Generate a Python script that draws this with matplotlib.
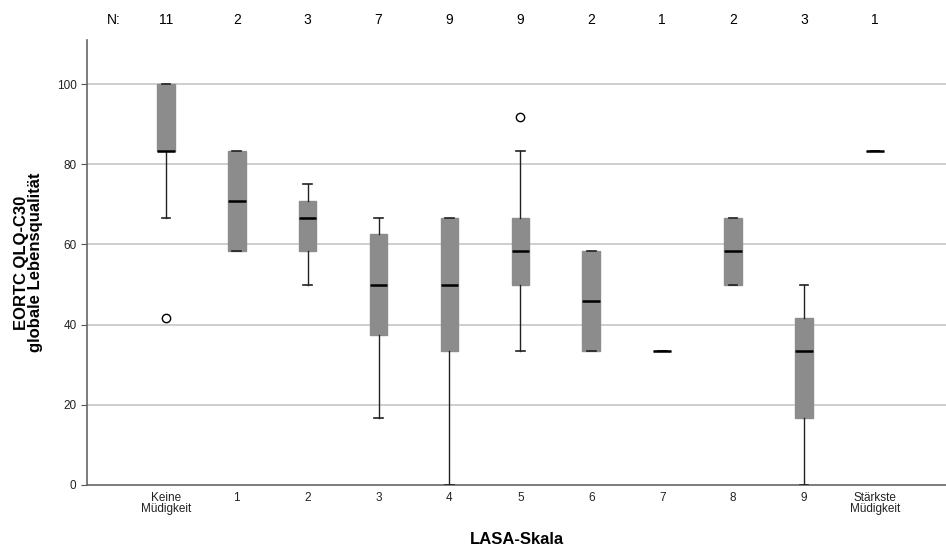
import matplotlib.pyplot as plt

plt.rcParams['font.family'] = ['Liberation Sans', 'DejaVu Sans']

# LASA-Skala Gruppen
gruppen = ['Keine\nMüdigkeit', '1', '2', '3', '4', '5', '6', '7', '8', '9', 'Stärkste\nMüdigkeit']
n_werte = [11, 2, 3, 7, 9, 9, 2, 1, 2, 3, 1]

# Boxplot-Kennwerte
median = [83.3, 70.8, 66.7, 50.0, 50.0, 58.3, 45.8, 33.3, 58.3, 33.3, 83.3]
q1 = [83.3, 58.3, 58.3, 37.5, 33.3, 50.0, 33.3, 33.3, 50.0, 16.7, 83.3]
q3 = [100.0, 83.3, 70.8, 62.5, 66.7, 66.7, 58.3, 33.3, 66.7, 41.7, 83.3]
whis_lo = [66.7, 58.3, 50.0, 16.7, 0.0, 33.3, 33.3, 33.3, 50.0, 0.0, 83.3]
whis_hi = [100.0, 83.3, 75.0, 66.7, 66.7, 83.3, 58.3, 33.3, 66.7, 50.0, 83.3]
ausreisser = [[41.7], [], [], [], [], [91.7], [], [], [], [], []]

stats = []
for i in range(len(gruppen)):
    stats.append({'med': median[i], 'q1': q1[i], 'q3': q3[i],
                  'whislo': whis_lo[i], 'whishi': whis_hi[i],
                  'fliers': ausreisser[i], 'label': gruppen[i]})

fig = plt.figure(figsize=(9.46, 5.48), dpi=100)
ax = fig.add_axes([0.092, 0.115, 0.908, 0.812])

box_col = '#8c8c8c'
pos = list(range(len(gruppen)))
ax.bxp(stats, positions=pos, widths=0.25, patch_artist=True, capwidths=0.12,
       boxprops=dict(facecolor=box_col, edgecolor=box_col, linewidth=1),
       medianprops=dict(color='black', linewidth=1.8),
       whiskerprops=dict(color='#222222', linewidth=1),
       capprops=dict(color='#222222', linewidth=1.2),
       flierprops=dict(marker='o', markerfacecolor='white', markeredgecolor='black',
                       markersize=6, markeredgewidth=1),
       zorder=3)

# horizontale Gitterlinien
for y in [20, 40, 60, 80, 100]:
    ax.axhline(y, color='#c6c6c6', linewidth=1.2, zorder=1)

ax.set_xlim(-1.11, 11)
ax.set_ylim(0, 111)
ax.set_yticks([0, 20, 40, 60, 80, 100])
ax.tick_params(axis='y', labelsize=8.5, length=4, color='#555555', labelcolor='#222222')
ax.set_xticks(pos)
ax.set_xticklabels(gruppen, fontsize=8.5, linespacing=0.9, color='#222222')
ax.tick_params(axis='x', length=0, pad=5)

for s in ['top', 'right']:
    ax.spines[s].set_visible(False)
for s in ['left', 'bottom']:
    ax.spines[s].set_color('#666666')
    ax.spines[s].set_linewidth(1.2)

ax.set_ylabel('EORTC QLQ-C30\nglobale Lebensqualität', fontsize=12,
              fontweight='bold', linespacing=0.9, labelpad=10)
ax.set_xlabel('LASA-Skala', fontsize=12, fontweight='bold', labelpad=12)

# N-Werte oben
ax.text(-0.73, 1.046, 'N:', transform=ax.get_xaxis_transform(), ha='center',
        va='center', fontsize=10)
for i, n in enumerate(n_werte):
    ax.text(pos[i], 1.046, str(n), transform=ax.get_xaxis_transform(),
            ha='center', va='center', fontsize=10)

fig.savefig('out.png', dpi=100)
